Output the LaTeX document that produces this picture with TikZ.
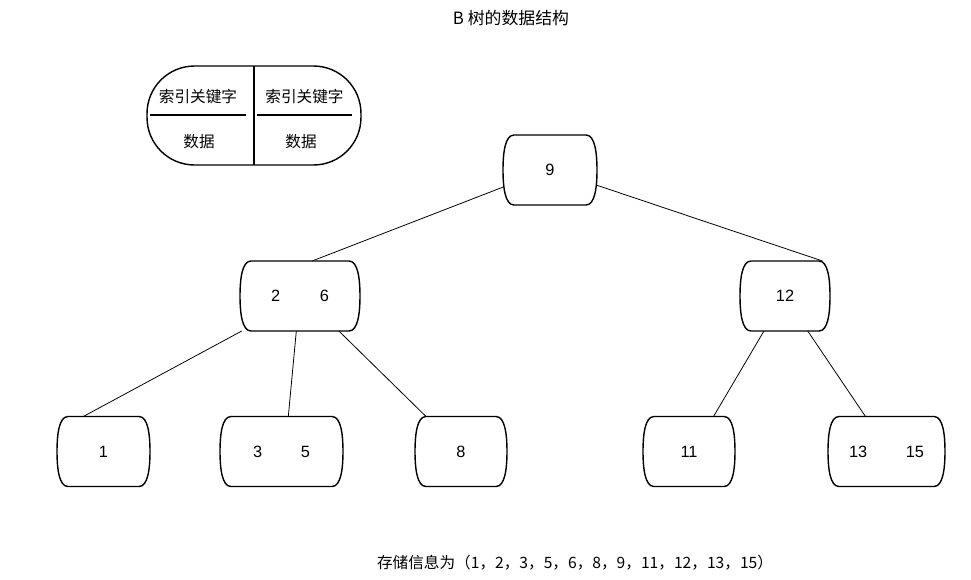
\documentclass[tikz,border=0pt]{standalone}
\usepackage{fontspec}
\setmainfont{Liberation Sans}
\newfontfamily\cjk{Noto Sans CJK SC}
\usetikzlibrary{calc}
\definecolor{TreeInk}{HTML}{000000}
\tikzset{
  key/.style={draw=none, outer sep=0pt, inner sep=0pt, minimum height=1.4cm, align=center},
  legend/.style={draw=TreeInk, line width=.8pt, rounded corners=.95cm, minimum width=4.28cm, minimum height=1.98cm, outer sep=0pt},
  hanzi/.style={font=\cjk\fontsize{8.9}{10}\selectfont},
  cell/.style={hanzi, inner sep=0pt, outer sep=0pt, minimum height=.72cm},
  capline/.style={draw=TreeInk, line width=.8pt},
  link/.style={draw=TreeInk, line width=.45pt},
}
\begin{document}
\begin{tikzpicture}[x=0.02cm, y=-0.02cm, font=\fontsize{9.3}{11}\selectfont]
  \useasboundingbox (0,0) rectangle (971,579);
  % title and footer
  \node[font=\cjk\fontsize{9.6}{11}\selectfont] (title) at (511,18) {B 树的数据结构};
  \node[hanzi] (info) at (575,563) {存储信息为（1，2，3，5，6，8，9，11，12，13，15）};

  % legend
  \node[legend] (lg) at (254,115.5) {};
  \node[cell, minimum width=1.92cm] (k1) at (198,97) {索引关键字};
  \node[cell, minimum width=1.9cm] (k2) at (304.5,97) {索引关键字};
  \node[hanzi] (d1) at (199,142) {数据};
  \node[hanzi] (d2) at (301,142) {数据};
  \draw[capline] (lg.north) -- (lg.south);
  \draw[line width=1.1pt] (k1.south west) -- (k1.south east);
  \draw[line width=1.1pt] (k2.south west) -- (k2.south east);

  % tree nodes
  \node[key, minimum width=1.88cm] (n9) at (550,170) {9};
  \node[key, minimum width=2.4cm] (n26) at (300,296) {\makebox[1.16cm]{2\hfill6}};
  \node[key, minimum width=1.8cm] (n12) at (785,296) {12};
  \node[key, minimum width=1.86cm] (n1) at (103.5,451.5) {1};
  \node[key, minimum width=2.46cm] (n35) at (281.5,451.5) {\makebox[1.14cm]{3\hfill5}};
  \node[key, minimum width=1.84cm] (n8) at (461,451.5) {8};
  \node[key, minimum width=1.84cm] (n11) at (689,451.5) {11};
  \node[key, minimum width=2.34cm] (n1315) at (886.5,451.5) {\makebox[1.5cm]{13\hfill15}};

  % barrel outlines
  \foreach \n in {n9,n26,n12,n1,n35,n8,n11,n1315}
    \draw[capline] ($(\n.north west)+(11,0)$) -- ($(\n.north east)+(-11,0)$)
      .. controls +(9,0) and +(0,-17) .. (\n.east)
      .. controls +(0,17) and +(9,0) .. ($(\n.south east)+(-11,0)$)
      -- ($(\n.south west)+(11,0)$)
      .. controls +(-9,0) and +(0,17) .. (\n.west)
      .. controls +(0,-17) and +(-9,0) .. cycle;

  % edges
  \draw[link] (n9.200) -- (n26.71);
  \draw[link] (n9.342) -- (n12.43);
  \draw[link] (n26.211) -- (n1.120);
  \draw[link] (n26.264) -- (n35.79);
  \draw[link] (n26.318) -- (n8.135);
  \draw[link] (n12.239) -- (n11.55);
  \draw[link] (n12.303) -- (n1315.121);
\end{tikzpicture}
\end{document}
